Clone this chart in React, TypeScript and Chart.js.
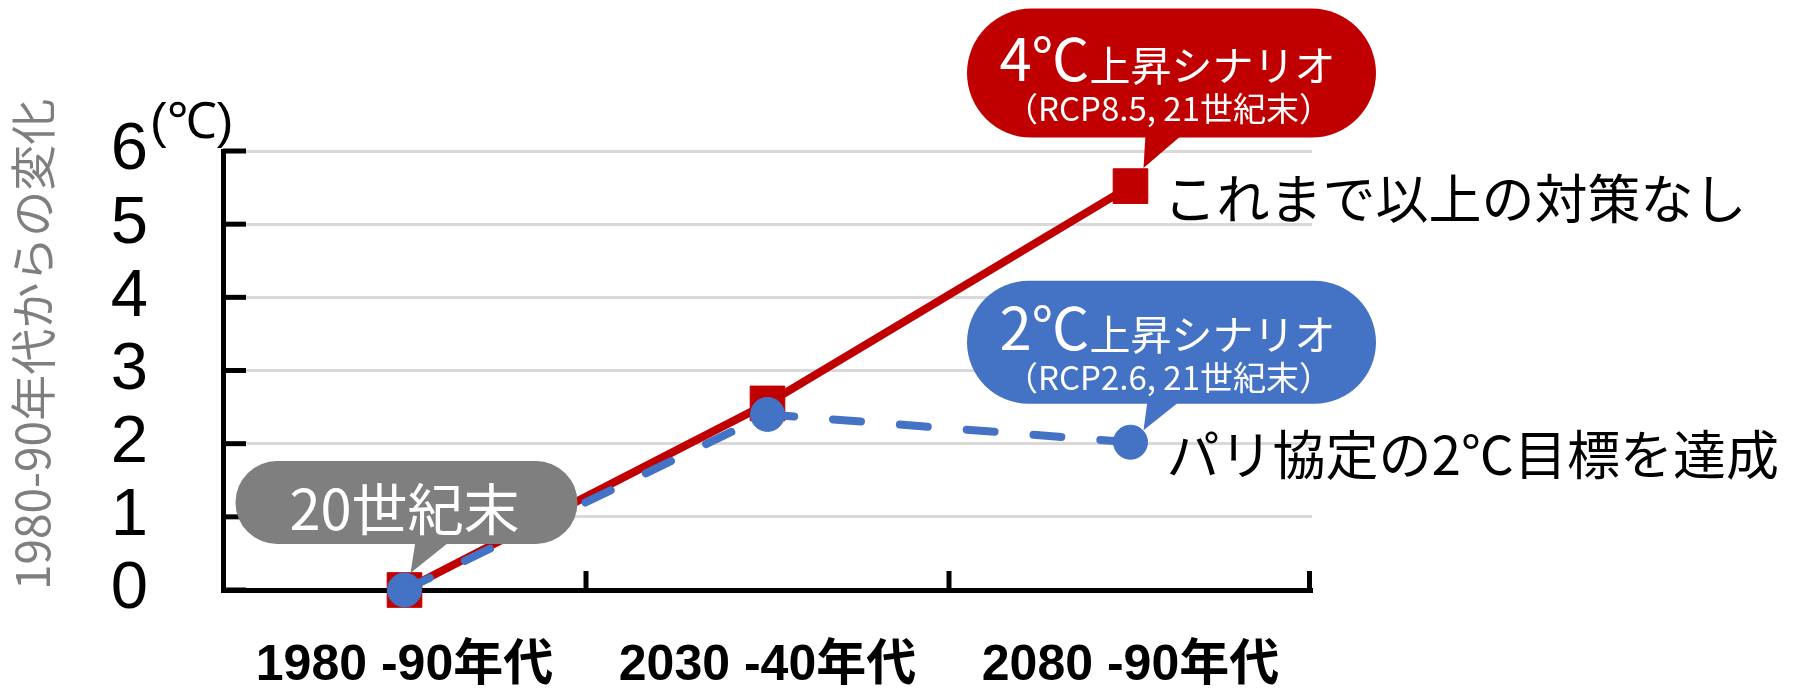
import React, { useEffect, useRef } from 'react';
import { Chart, registerables } from 'chart.js';

Chart.register(...registerables);

const WIDTH = 1793;
const HEIGHT = 694;

// Periods on the horizontal axis
const periods = ['1980 -90年代', '2030 -40年代', '2080 -90年代'];
// Temperature change from the 1980-90s (℃)
const highScenario = [0, 2.55, 5.52]; // RCP8.5
const lowScenario = [0, 2.4, 2.02]; // RCP2.6
// Value axis
const yMin = 0;
const yMax = 6;
const yStep = 1;

const yAxisTitle = '1980-90年代からの変化';
const unitText = '(℃)';
const baseLabel = '20世紀末';
const highHead = ['4℃', '上昇シナリオ'];
const highSub = '（RCP8.5, 21世紀末）';
const lowHead = ['2℃', '上昇シナリオ'];
const lowSub = '（RCP2.6, 21世紀末）';
const highNote = 'これまで以上の対策なし';
const lowNote = 'パリ協定の2℃目標を達成';

const RED = '#C00000';
const BLUE = '#4472C4';
const GRAY = '#7F7F7F';
const GRID = '#D9D9D9';
const CJK = '"Noto Sans CJK JP", sans-serif';
const LATIN = '"Liberation Sans", Arial, sans-serif';

type Bubble = {
  series: number;
  index: number;
  color: string;
  dx: number;
  dy: number;
  w: number;
  h: number;
  baseL: number;
  baseR: number;
  tipDx: number;
  tipDy: number;
};

// Speech-bubble layout, relative to the point each bubble points at
const bubbleBase: Bubble = { series: 0, index: 0, color: GRAY, dx: 2, dy: -87.5, w: 342, h: 83, baseL: 11, baseR: 46, tipDx: 6, tipDy: -17 };
const bubbleHigh: Bubble = { series: 1, index: 2, color: RED, dx: 41, dy: -113, w: 409, h: 129, baseL: 15, baseR: 52, tipDx: 13, tipDy: -18 };
const bubbleLow: Bubble = { series: 0, index: 2, color: BLUE, dx: 41, dy: -100, w: 409, h: 123, baseL: 17, baseR: 50, tipDx: 13, tipDy: -12 };

function anchor(chart: Chart, b: Bubble) {
  const el: any = chart.getDatasetMeta(b.series).data[b.index];
  return { px: el.x as number, py: el.y as number };
}

function drawBubble(ctx: CanvasRenderingContext2D, chart: Chart, b: Bubble) {
  const { px, py } = anchor(chart, b);
  const cx = px + b.dx;
  const cy = py + b.dy;
  ctx.fillStyle = b.color;
  ctx.beginPath();
  (ctx as any).roundRect(cx - b.w / 2, cy - b.h / 2, b.w, b.h, b.h / 2);
  ctx.fill();
  ctx.beginPath();
  ctx.moveTo(px + b.baseL, cy + b.h / 2 - 3);
  ctx.lineTo(px + b.tipDx, py + b.tipDy);
  ctx.lineTo(px + b.baseR, cy + b.h / 2 - 3);
  ctx.closePath();
  ctx.fill();
  return { cx, cy };
}

function drawScenarioText(ctx: CanvasRenderingContext2D, cx: number, cy: number, head: string[], sub: string) {
  ctx.fillStyle = '#FFFFFF';
  ctx.textBaseline = 'alphabetic';
  ctx.textAlign = 'left';
  ctx.font = `58px ${CJK}`;
  const w1 = ctx.measureText(head[0]).width;
  ctx.font = `41px ${CJK}`;
  const w2 = ctx.measureText(head[1]).width;
  const start = cx - (w1 + w2) / 2 - 4;
  ctx.font = `58px ${CJK}`;
  ctx.fillText(head[0], start, cy + 8);
  ctx.font = `41px ${CJK}`;
  ctx.fillText(head[1], start + w1, cy + 8);
  ctx.font = `33px ${CJK}`;
  ctx.textAlign = 'center';
  ctx.fillText(sub, cx - 3, cy + 48);
}

const decorations = {
  id: 'decorations',
  beforeDatasetsDraw(chart: Chart) {
    const { ctx, chartArea } = chart;
    const x: any = chart.scales.x;
    const y: any = chart.scales.y;
    ctx.save();
    ctx.strokeStyle = '#000000';
    ctx.lineWidth = 5;
    ctx.lineCap = 'butt';
    // inward tick marks on the value axis
    y.ticks.forEach((t: any) => {
      const py = y.getPixelForValue(t.value);
      ctx.beginPath();
      ctx.moveTo(chartArea.left, py);
      ctx.lineTo(chartArea.left + 23, py);
      ctx.stroke();
    });
    // upward tick marks at the category boundaries
    const n = x.ticks.length;
    for (let i = 1; i <= n; i++) {
      const px = i < n ? (x.getPixelForValue(i - 1) + x.getPixelForValue(i)) / 2 : chartArea.right - 2.5;
      ctx.beginPath();
      ctx.moveTo(px, chartArea.bottom);
      ctx.lineTo(px, chartArea.bottom - 19);
      ctx.stroke();
    }
    ctx.restore();
  },
  afterDatasetsDraw(chart: Chart) {
    const { ctx } = chart;
    ctx.save();
    // 20th-century baseline bubble
    const g = drawBubble(ctx, chart, bubbleBase);
    ctx.fillStyle = '#FFFFFF';
    ctx.font = `56px ${CJK}`;
    ctx.textAlign = 'center';
    ctx.textBaseline = 'alphabetic';
    ctx.fillText(baseLabel, g.cx - 2, g.cy + 27.5);

    const r = drawBubble(ctx, chart, bubbleHigh);
    drawScenarioText(ctx, r.cx, r.cy, highHead, highSub);
    const b = drawBubble(ctx, chart, bubbleLow);
    drawScenarioText(ctx, b.cx, b.cy, lowHead, lowSub);

    // notes beside the end points
    ctx.fillStyle = '#000000';
    ctx.font = `53px ${CJK}`;
    ctx.textAlign = 'left';
    const hp = anchor(chart, bubbleHigh);
    ctx.fillText(highNote, hp.px + 33, hp.py + 33);
    const lp = anchor(chart, bubbleLow);
    ctx.fillText(lowNote, lp.px + 36, lp.py + 33);
    ctx.restore();
  },
  afterDraw(chart: Chart) {
    const { ctx, chartArea } = chart;
    ctx.save();
    // rotated axis title, starting at the axis bottom
    ctx.translate(33, chartArea.bottom);
    ctx.rotate(-Math.PI / 2);
    ctx.fillStyle = GRAY;
    ctx.font = `46px ${CJK}`;
    ctx.textAlign = 'left';
    ctx.textBaseline = 'middle';
    ctx.fillText(yAxisTitle, 0, 0);
    ctx.restore();

    ctx.save();
    ctx.fillStyle = '#000000';
    ctx.font = `50px ${LATIN}`;
    ctx.textAlign = 'left';
    ctx.textBaseline = 'alphabetic';
    ctx.fillText(unitText, chartArea.left - 73, chartArea.top - 13);
    ctx.restore();
  },
};

export default function App() {
  const canvasRef = useRef<HTMLCanvasElement | null>(null);

  useEffect(() => {
    const canvas = canvasRef.current;
    if (!canvas) return;
    const chart = new Chart(canvas, {
      type: 'line',
      data: {
        labels: periods,
        datasets: [
          {
            label: 'RCP2.6',
            data: lowScenario,
            borderColor: BLUE,
            backgroundColor: BLUE,
            borderWidth: 8,
            borderDash: [28, 39],
            borderCapStyle: 'round',
            pointStyle: 'circle',
            pointRadius: 17,
            pointBackgroundColor: BLUE,
            pointBorderColor: BLUE,
            pointBorderWidth: 1,
            tension: 0,
            order: 0,
            clip: false as any,
          },
          {
            label: 'RCP8.5',
            data: highScenario,
            borderColor: RED,
            backgroundColor: RED,
            borderWidth: 8,
            pointStyle: 'rect',
            pointRadius: 24.5,
            pointBackgroundColor: RED,
            pointBorderColor: RED,
            pointBorderWidth: 1,
            tension: 0,
            order: 1,
            clip: false as any,
          },
        ],
      },
      options: {
        responsive: false,
        animation: false,
        devicePixelRatio: 1,
        events: [],
        layout: { autoPadding: false, padding: { top: 151, right: 481, left: 0, bottom: 0 } },
        plugins: { legend: { display: false }, tooltip: { enabled: false } },
        scales: {
          x: {
            type: 'category',
            offset: true,
            grid: { display: false, drawTicks: false },
            border: { display: true, color: '#000000', width: 5 },
            ticks: {
              color: '#000000',
              font: { family: `"Liberation Sans", "Noto Sans CJK JP", sans-serif`, size: 50, weight: 'bold' },
              padding: 46,
              maxRotation: 0,
              autoSkip: false,
            },
            afterFit: (s: any) => {
              s.height = 104;
            },
          },
          y: {
            min: yMin,
            max: yMax,
            ticks: {
              stepSize: yStep,
              color: '#000000',
              font: { family: LATIN, size: 67, lineHeight: 1 },
              padding: 0,
              autoSkip: false,
              maxTicksLimit: 20,
            },
            grid: {
              color: GRID,
              lineWidth: 3,
              drawTicks: true,
              tickLength: 75,
              tickColor: 'rgba(0,0,0,0)',
            },
            border: { display: true, color: '#000000', width: 5 },
            afterFit: (s: any) => {
              s.width = 223;
            },
          },
        },
      },
      plugins: [decorations],
    });
    return () => chart.destroy();
  }, []);

  return (
    <div style={{ position: 'fixed', left: 0, top: 0, width: WIDTH, height: HEIGHT, background: '#FFFFFF' }}>
      <canvas ref={canvasRef} width={WIDTH} height={HEIGHT} style={{ display: 'block', width: WIDTH, height: HEIGHT }} />
    </div>
  );
}
